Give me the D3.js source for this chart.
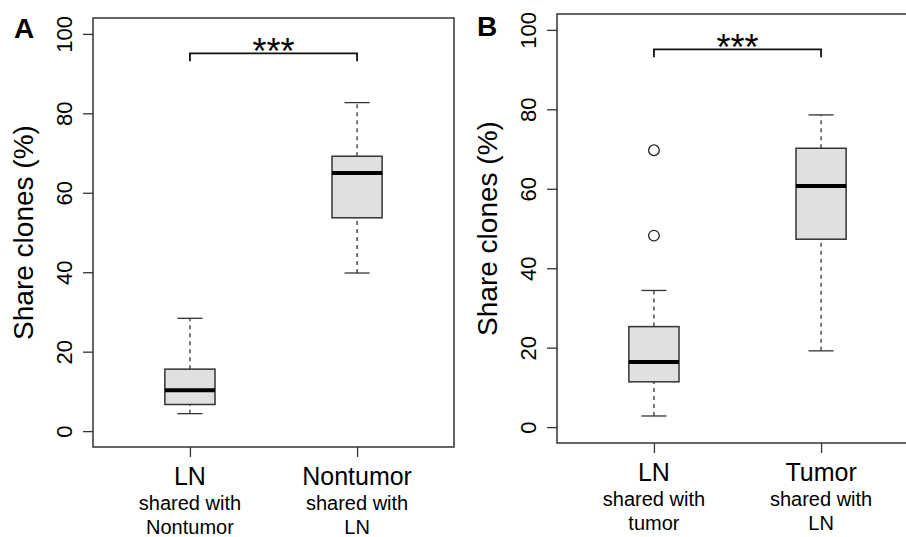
<html>
<head>
  <title>Shared clones boxplots</title>
  <style>
    body { margin: 0; background: #fff; }
    text { font-family: "Liberation Sans", Arial, sans-serif; }
  </style>
</head>
<body>
  <svg id="container" width="906" height="537"></svg>
  <script src="https://d3js.org/d3.v7.min.js"></script>
  <script>
    // values: [lower whisker, Q1, median, Q3, upper whisker]
    let panelsA = ["LN", "Nontumor"]
    let subA = [["shared with", "Nontumor"], ["shared with", "LN"]]
    let statsA = [[4.4, 6.7, 10.3, 15.6, 28.4], [39.8, 53.7, 65.0, 69.2, 82.7]]
    let outliersA = [[], []]

    let panelsB = ["LN", "Tumor"]
    let subB = [["shared with", "tumor"], ["shared with", "LN"]]
    let statsB = [[2.8, 11.4, 16.4, 25.3, 34.4], [19.2, 47.3, 60.7, 70.2, 78.6]]
    let outliersB = [[69.7, 48.2], []]

    let yTicks = [0, 20, 40, 60, 80, 100]
    let bracketY = [95.1, 93.1]

    let svg = d3.select("#container")

    function drawPanel(opt) {
      let g = svg.append("g")
      let x = d3.scaleLinear().domain([0.42, 2.58]).range([opt.left, opt.left + 361])
      let y = d3.scaleLinear().domain([-4, 104]).range([opt.bottom, opt.top])
      let line = "#333"

      // y axis
      let yAxis = g.append("g")
                   .attr("transform", `translate(${opt.left},0)`)
                   .call(d3.axisLeft(y).tickValues(yTicks).tickSize(10).tickSizeOuter(0))
      yAxis.select(".domain").remove()
      yAxis.selectAll("line").attr("stroke", line).attr("stroke-width", 1.3)
      yAxis.selectAll("text")
           .attr("transform", "rotate(-90)")
           .attr("x", 0).attr("y", -21).attr("dy", 0)
           .attr("text-anchor", "middle")
           .attr("font-size", 22)
           .attr("font-family", "Liberation Sans, Arial, sans-serif")
           .attr("fill", "#000")

      // x axis ticks
      let xAxis = g.append("g")
                   .attr("transform", `translate(0,${opt.bottom})`)
                   .call(d3.axisBottom(x).tickValues([1, 2]).tickSize(10).tickFormat(""))
      xAxis.select(".domain").remove()
      xAxis.selectAll("line").attr("stroke", line).attr("stroke-width", 1.3)

      // plot frame
      g.append("rect")
       .attr("x", opt.left).attr("y", opt.top)
       .attr("width", 361).attr("height", opt.bottom - opt.top)
       .attr("fill", "none").attr("stroke", line).attr("stroke-width", 1.5)

      let boxes = g.selectAll(".box").data(opt.stats).enter()
                   .append("g").attr("class", "box")

      // whiskers
      boxes.append("line")
           .attr("x1", (d, i) => x(i + 1)).attr("x2", (d, i) => x(i + 1))
           .attr("y1", d => y(d[0])).attr("y2", d => y(d[1]))
           .attr("stroke", line).attr("stroke-width", 1.3).attr("stroke-dasharray", "4,4")
      boxes.append("line")
           .attr("x1", (d, i) => x(i + 1)).attr("x2", (d, i) => x(i + 1))
           .attr("y1", d => y(d[3])).attr("y2", d => y(d[4]))
           .attr("stroke", line).attr("stroke-width", 1.3).attr("stroke-dasharray", "4,4")
      // caps
      ;[0, 4].forEach(k => {
        boxes.append("line")
             .attr("x1", (d, i) => x(i + 1 - 0.075)).attr("x2", (d, i) => x(i + 1 + 0.075))
             .attr("y1", d => y(d[k])).attr("y2", d => y(d[k]))
             .attr("stroke", line).attr("stroke-width", 1.3)
      })
      // box
      boxes.append("rect")
           .attr("x", (d, i) => x(i + 1 - 0.15))
           .attr("width", x(1.15) - x(0.85))
           .attr("y", d => y(d[3]))
           .attr("height", d => y(d[1]) - y(d[3]))
           .attr("fill", "#e0e0e0").attr("stroke", line).attr("stroke-width", 1.5)
      // median
      boxes.append("line")
           .attr("x1", (d, i) => x(i + 1 - 0.15)).attr("x2", (d, i) => x(i + 1 + 0.15))
           .attr("y1", d => y(d[2])).attr("y2", d => y(d[2]))
           .attr("stroke", "#000").attr("stroke-width", 4)

      // outliers
      opt.outliers.forEach((vals, i) => {
        g.selectAll(null).data(vals).enter().append("circle")
         .attr("cx", x(i + 1)).attr("cy", d => y(d)).attr("r", 5.3)
         .attr("fill", "none").attr("stroke", "#222").attr("stroke-width", 1.3)
      })

      // significance bracket
      g.append("path")
       .attr("d", `M${x(1)},${y(bracketY[1])}V${y(bracketY[0])}H${x(2)}V${y(bracketY[1])}`)
       .attr("fill", "none").attr("stroke", "#111").attr("stroke-width", 1.8)
      g.append("text")
       .attr("x", (x(1) + x(2)) / 2).attr("y", y(bracketY[0]) + 11)
       .attr("text-anchor", "middle").attr("font-size", 36)
       .text("***")

      // category labels
      opt.cats.forEach((c, i) => {
        g.append("text").attr("x", x(i + 1)).attr("y", opt.bottom + 38)
         .attr("text-anchor", "middle").attr("font-size", 25).text(c)
        opt.subs[i].forEach((s, k) => {
          g.append("text").attr("x", x(i + 1)).attr("y", opt.bottom + 63 + k * 24)
           .attr("text-anchor", "middle").attr("font-size", 20).text(s)
        })
      })

      // y title
      g.append("text")
       .attr("transform", `translate(${opt.titleX},${(opt.top + opt.bottom) / 2}) rotate(-90)`)
       .attr("text-anchor", "middle").attr("font-size", 28)
       .text("Share clones (%)")

      // panel letter
      g.append("text").attr("x", opt.letterX).attr("y", opt.letterY)
       .attr("font-size", 28).attr("font-weight", "bold").text(opt.letter)
    }

    drawPanel({left: 93, top: 18, bottom: 447, stats: statsA, outliers: outliersA,
               cats: panelsA, subs: subA, titleX: 33, letter: "A", letterX: 14, letterY: 38})
    drawPanel({left: 557, top: 14, bottom: 443, stats: statsB, outliers: outliersB,
               cats: panelsB, subs: subB, titleX: 497, letter: "B", letterX: 477, letterY: 36})
  </script>
</body>
</html>
